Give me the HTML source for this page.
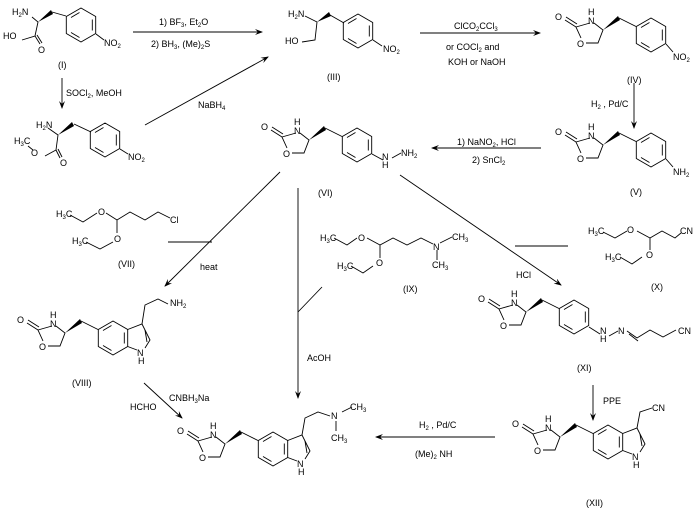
<!DOCTYPE html>
<html><head><meta charset="utf-8"><style>
html,body{margin:0;padding:0;background:#fff}
svg{display:block}
text{font-family:"Liberation Sans",sans-serif;font-size:9px;fill:#000}
.s{font-size:6px}
</style></head><body>
<svg width="698" height="511" viewBox="0 0 698 511" xmlns="http://www.w3.org/2000/svg">
<defs>
<g id="bz" fill="none" stroke="#000" stroke-width="0.9">
<polygon points="0,-17 14.7,-8.5 14.7,8.5 0,17 -14.7,8.5 -14.7,-8.5"/>
<line x1="11.3" y1="-5.5" x2="11.3" y2="5.5"/>
<line x1="-1.5" y1="12.5" x2="-10" y2="7.5"/>
<line x1="-10" y1="-7.5" x2="-1.5" y2="-12.5"/>
</g>
<g id="ox">
<g fill="none" stroke="#000" stroke-width="0.9">
<polyline points="-9,-7 0,0 -5,13 -17,13"/>
<polyline points="-13,-7 -27,-3 -22,8"/>
<line x1="-27" y1="-3" x2="-38" y2="-10"/>
<line x1="-26" y1="-6" x2="-37" y2="-13"/>
<line x1="16" y1="-12" x2="33" y2="-3.5"/>
</g>
<polygon points="0,0 15,-14 17,-10" fill="#000"/>
<text x="-48" y="-10">O</text>
<text x="-15" y="-15">H</text>
<text x="-15" y="-6">N</text>
<text x="-26" y="17">O</text>
<use href="#bz" x="48" y="5"/>
</g>
<g id="ind">
<g fill="none" stroke="#000" stroke-width="0.9">
<polyline points="14.7,-8.5 29,-14 37,2 32,10"/>
<line x1="24" y1="12" x2="14.7" y2="8.5"/>
<line x1="32" y1="-8" x2="34" y2="4" />
</g>
<text x="24" y="18">N</text>
<text x="25" y="26">H</text>
</g>
<marker id="ah" markerWidth="8" markerHeight="6" refX="7" refY="3" orient="auto" markerUnits="userSpaceOnUse"><path d="M0,0 L8,3 L0,6 L3,3 z" fill="#000"/></marker>
</defs>
<g stroke="#000" stroke-width="0.9" fill="none">
<line x1="133" y1="32" x2="262" y2="32" marker-end="url(#ah)"/>
<line x1="62" y1="78" x2="62" y2="108" marker-end="url(#ah)"/>
<line x1="145" y1="125" x2="268" y2="57" marker-end="url(#ah)"/>
<line x1="420" y1="33" x2="540" y2="33" marker-end="url(#ah)"/>
<line x1="634" y1="83" x2="634" y2="128" marker-end="url(#ah)"/>
<line x1="541" y1="148" x2="432" y2="148" marker-end="url(#ah)"/>
<line x1="280" y1="172" x2="165" y2="286" marker-end="url(#ah)"/>
<line x1="168" y1="242" x2="212" y2="242"/>
<line x1="298" y1="188" x2="298" y2="398" marker-end="url(#ah)"/>
<line x1="298" y1="312" x2="322" y2="287"/>
<line x1="400" y1="175" x2="561" y2="285" marker-end="url(#ah)"/>
<line x1="515" y1="246" x2="568" y2="246"/>
<line x1="593" y1="385" x2="593" y2="420" marker-end="url(#ah)"/>
<line x1="495" y1="437" x2="376" y2="437" marker-end="url(#ah)"/>
<line x1="144" y1="383" x2="182" y2="418" marker-end="url(#ah)"/>
<polyline points="32,17 38,22 35,36 22,40"/>
<line x1="35" y1="36" x2="40" y2="44"/><line x1="37" y1="35" x2="42" y2="43"/>
<line x1="52" y1="12" x2="66" y2="16"/>
<line x1="96" y1="34" x2="104" y2="40"/>
<polyline points="48,128 58,135 56,150 45,156"/>
<line x1="56" y1="150" x2="60" y2="158"/><line x1="58" y1="149" x2="62" y2="157"/>
<line x1="28" y1="146" x2="33" y2="150"/>
<line x1="74" y1="124" x2="91" y2="132"/>
<line x1="120" y1="149" x2="128" y2="154"/>
<polyline points="305,16 317,22 315,40 302,42"/>
<line x1="330" y1="15" x2="344" y2="23"/>
<line x1="373" y1="40" x2="382" y2="46"/>
<line x1="666" y1="44" x2="673" y2="52"/>
<line x1="666" y1="159" x2="673" y2="167"/>
<line x1="372" y1="154" x2="383" y2="160"/><line x1="392" y1="158" x2="401" y2="153"/>
<polyline points="70,215 83,222 97,213"/>
<polyline points="106,213 117,220 130,212 145,220 158,212 170,218"/>
<line x1="117" y1="220" x2="117" y2="233"/>
<polyline points="86,242 100,249 113,242"/>
<polyline points="334,238 347,245 357,238"/>
<polyline points="367,238 380,245 393,238 407,245 421,238 433,244"/>
<line x1="380" y1="245" x2="380" y2="258"/>
<polyline points="351,266 363,273 373,266"/>
<line x1="440" y1="243" x2="452" y2="237"/>
<line x1="437" y1="250" x2="437" y2="260"/>
<polyline points="603,232 615,238 627,231"/>
<polyline points="637,231 650,238 662,231 675,238 681,233"/>
<line x1="650" y1="238" x2="650" y2="250"/>
<polyline points="620,257 632,264 642,257"/>
<polyline points="142,324 145,305 158,299 168,304"/>
<line x1="589" y1="327" x2="600" y2="334"/>
<line x1="609" y1="336" x2="618" y2="331"/>
<polyline points="627,331 637,338 650,330 663,337 676,330"/>
<line x1="629" y1="334" x2="638" y2="341"/>
<polyline points="302,435 305,418 318,412 330,416"/>
<line x1="342" y1="412" x2="352" y2="407"/>
<line x1="336" y1="421" x2="336" y2="431"/>
<polyline points="637,428 640,412 652,408"/>
</g>
<use href="#bz" x="81" y="25"/>
<use href="#bz" x="105" y="140"/>
<use href="#bz" x="358" y="31"/>
<use href="#ox" x="603" y="30"/>
<use href="#ox" x="603" y="145"/>
<use href="#ox" x="309" y="140"/>
<use href="#ox" x="526" y="312"/>
<use href="#ox" x="65" y="333"/>
<use href="#ind" x="113" y="338"/>
<use href="#ox" x="225" y="444"/>
<use href="#ind" x="273" y="449"/>
<use href="#ox" x="560" y="437"/>
<use href="#ind" x="608" y="442"/>
<polygon points="38,22 51,10 53,14" fill="#000"/>
<polygon points="58,135 72,122 74,126" fill="#000"/>
<polygon points="317,22 329,12 331,16" fill="#000"/>
<text x="12" y="15">H<tspan class="s" dy="2">2</tspan><tspan dy="-2">N</tspan></text>
<text x="3" y="39">HO</text><text x="38" y="53">O</text>
<text x="104" y="46">NO<tspan class="s" dy="2">2</tspan></text>
<text x="58" y="68">(I)</text>
<text x="159" y="25">1) BF<tspan class="s" dy="2">3</tspan><tspan dy="-2">, Et</tspan><tspan class="s" dy="2">2</tspan><tspan dy="-2">O</tspan></text>
<text x="151" y="47">2) BH<tspan class="s" dy="2">3</tspan><tspan dy="-2">, (Me)</tspan><tspan class="s" dy="2">2</tspan><tspan dy="-2">S</tspan></text>
<text x="66" y="96">SOCl<tspan class="s" dy="2">2</tspan><tspan dy="-2">, MeOH</tspan></text>
<text x="36" y="128">H<tspan class="s" dy="2">2</tspan><tspan dy="-2">N</tspan></text>
<text x="14" y="144">H<tspan class="s" dy="2">3</tspan><tspan dy="-2">C</tspan></text>
<text x="31" y="156">O</text><text x="60" y="166">O</text>
<text x="128" y="160">NO<tspan class="s" dy="2">2</tspan></text>
<text x="198" y="108">NaBH<tspan class="s" dy="2">4</tspan></text>
<text x="288" y="17">H<tspan class="s" dy="2">2</tspan><tspan dy="-2">N</tspan></text>
<text x="285" y="44">HO</text>
<text x="383" y="52">NO<tspan class="s" dy="2">2</tspan></text>
<text x="327" y="80">(III)</text>
<text x="454" y="29">ClCO<tspan class="s" dy="2">2</tspan><tspan dy="-2">CCl</tspan><tspan class="s" dy="2">3</tspan></text>
<text x="446" y="50">or COCl<tspan class="s" dy="2">2</tspan><tspan dy="-2"> and</tspan></text>
<text x="448" y="65">KOH or NaOH</text>
<text x="673" y="60">NO<tspan class="s" dy="2">2</tspan></text>
<text x="627" y="83">(IV)</text>
<text x="591" y="107">H<tspan class="s" dy="2">2</tspan><tspan dy="-2"> , Pd/C</tspan></text>
<text x="673" y="175">NH<tspan class="s" dy="2">2</tspan></text>
<text x="630" y="195">(V)</text>
<text x="457" y="145">1) NaNO<tspan class="s" dy="2">2</tspan><tspan dy="-2">, HCl</tspan></text>
<text x="472" y="163">2) SnCl<tspan class="s" dy="2">2</tspan></text>
<text x="382" y="160">N</text><text x="382" y="168">H</text>
<text x="401" y="156">NH<tspan class="s" dy="2">2</tspan></text>
<text x="318" y="196">(VI)</text>
<text x="56" y="217">H<tspan class="s" dy="2">3</tspan><tspan dy="-2">C</tspan></text>
<text x="98" y="215">O</text><text x="114" y="242">O</text>
<text x="170" y="223">Cl</text>
<text x="72" y="244">H<tspan class="s" dy="2">3</tspan><tspan dy="-2">C</tspan></text>
<text x="118" y="267">(VII)</text>
<text x="200" y="270">heat</text>
<text x="320" y="241">H<tspan class="s" dy="2">3</tspan><tspan dy="-2">C</tspan></text>
<text x="358" y="241">O</text><text x="376" y="266">O</text>
<text x="337" y="269">H<tspan class="s" dy="2">3</tspan><tspan dy="-2">C</tspan></text>
<text x="433" y="250">N</text>
<text x="452" y="240">CH<tspan class="s" dy="2">3</tspan></text>
<text x="432" y="268">CH<tspan class="s" dy="2">3</tspan></text>
<text x="403" y="292">(IX)</text>
<text x="516" y="278">HCl</text>
<text x="588" y="234">H<tspan class="s" dy="2">3</tspan><tspan dy="-2">C</tspan></text>
<text x="627" y="233">O</text><text x="646" y="258">O</text>
<text x="605" y="260">H<tspan class="s" dy="2">3</tspan><tspan dy="-2">C</tspan></text>
<text x="680" y="234">CN</text>
<text x="651" y="290">(X)</text>
<text x="170" y="306">NH<tspan class="s" dy="2">2</tspan></text>
<text x="72" y="386">(VIII)</text>
<text x="600" y="334">N</text><text x="600" y="342">H</text>
<text x="618" y="334">N</text>
<text x="678" y="334">CN</text>
<text x="577" y="371">(XI)</text>
<text x="603" y="404">PPE</text>
<text x="307" y="361">AcOH</text>
<text x="130" y="410">HCHO</text>
<text x="169" y="401">CNBH<tspan class="s" dy="2">3</tspan><tspan dy="-2">Na</tspan></text>
<text x="419" y="428">H<tspan class="s" dy="2">2</tspan><tspan dy="-2"> , Pd/C</tspan></text>
<text x="415" y="457">(Me)<tspan class="s" dy="2">2</tspan><tspan dy="-2"> NH</tspan></text>
<text x="331" y="419">N</text>
<text x="350" y="410">CH<tspan class="s" dy="2">3</tspan></text>
<text x="331" y="441">CH<tspan class="s" dy="2">3</tspan></text>
<text x="652" y="411">CN</text>
<text x="586" y="506">(XII)</text>
</svg>
</body></html>
